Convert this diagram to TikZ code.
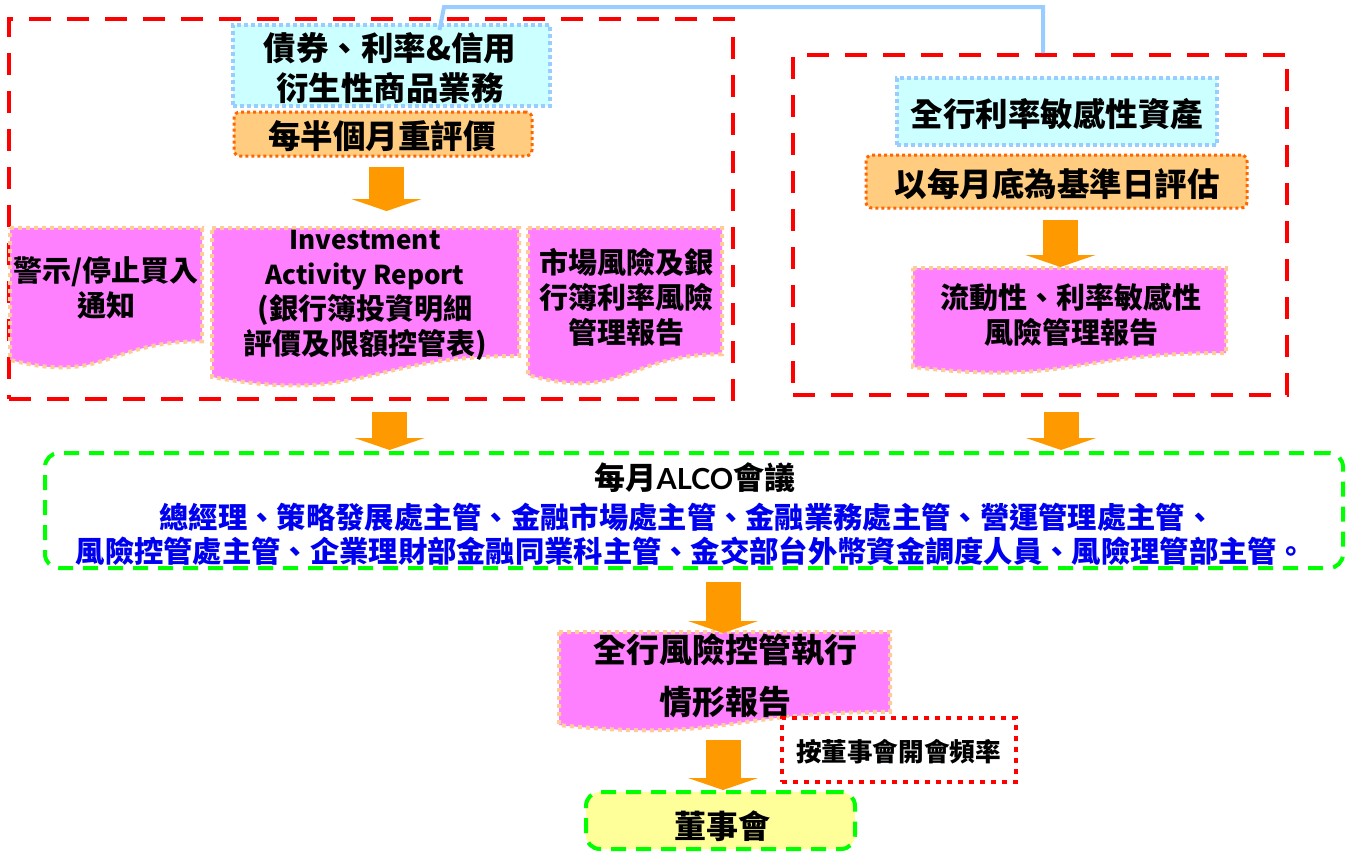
\documentclass[tikz,border=0pt]{standalone}
\usepackage{fontspec}
\setmainfont{Lato}
\newfontfamily\cjk{Noto Sans CJK TC}
\usetikzlibrary{arrows.meta,calc}

% document outline: flat top, wavy bottom, drawn round a named node
\newcommand\docshape[1]{%
  \path[style=doc shape] let \p1=(#1.north west), \p2=(#1.south east) in
    (\p1) -- (\x2,\y1) -- (\x2,{\y1+0.802*(\y2-\y1)})
    .. controls ({0.5*(\x1+\x2)},{\y1+0.802*(\y2-\y1)})
            and ({0.5*(\x1+\x2)},{\y1+1.107*(\y2-\y1)}) .. (\x1,{\y1+0.934*(\y2-\y1)})
    -- cycle;}

\begin{document}
\begin{tikzpicture}[x=1pt,y=-1pt]
  % Colors
  \definecolor{docpink}{HTML}{FF80FF}
  \definecolor{docedge}{HTML}{FFCC99}
  \definecolor{paleblue}{HTML}{CCFFFF}
  \definecolor{cyanedge}{HTML}{99CCFF}
  \definecolor{lightorange}{HTML}{FFCC80}
  \definecolor{dotorange}{HTML}{FF6600}
  \definecolor{arroworange}{HTML}{FF9900}
  \definecolor{framered}{HTML}{FF0000}
  \definecolor{greenedge}{HTML}{00FF00}
  \definecolor{paleyellow}{HTML}{FFFF99}
  \definecolor{staffblue}{HTML}{0000F0}

  % Styles
  \tikzstyle{red frame}=[draw=framered, line width=4pt, dash pattern=on 22pt off 16pt, inner sep=0pt]
  \tikzstyle{cyan box}=[draw=cyanedge, fill=paleblue, line width=4pt, dash pattern=on 4pt off 3pt, inner sep=0pt]
  \tikzstyle{orange box}=[draw=dotorange, fill=lightorange, line width=3pt, dash pattern=on 3pt off 3pt, rounded corners=6pt, inner sep=0pt]
  \tikzstyle{doc}=[inner sep=0pt, outer sep=0pt]
  \tikzstyle{doc shape}=[fill=docpink, draw=docedge, line width=4pt, dash pattern=on 4pt off 4pt]
  \tikzstyle{green box}=[draw=greenedge, line width=4pt, dash pattern=on 15pt off 10pt, rounded corners=14pt, inner sep=0pt]
  \tikzstyle{note box}=[draw=framered, line width=4pt, dash pattern=on 5pt off 6pt, inner sep=0pt]
  \tikzstyle{big arrow}=[draw=arroworange, line width=35pt, -{Triangle[width=70pt,length=12pt,line width=0pt]}]
  \tikzstyle{link line}=[draw=cyanedge, line width=4pt]
  \tikzstyle{head text}=[align=center, inner sep=0pt, font=\cjk\bfseries\fontsize{32.5}{40}\selectfont]
  \tikzstyle{doc text}=[align=center, inner sep=0pt, font=\cjk\bfseries\fontsize{29}{35}\selectfont]
  \tikzstyle{staff text}=[inner sep=0pt, text=staffblue, font=\cjk\bfseries\fontsize{29.3}{35}\selectfont]

  \useasboundingbox (0,0) rectangle (1352,852);

  % The graphic
  \node[red frame, minimum width=724, minimum height=380] (frameL) at (371,209) {};
  \node[red frame, minimum width=494, minimum height=340] (frameR) at (1040,225) {};

  % bonds and derivatives side
  \node[cyan box, minimum width=317, minimum height=81] (bondL) at (391.5,65.5) {};
  \draw[style=link line] ([xshift=48pt,yshift=-7pt]bondL.north) -- (444,7) -| ([xshift=3pt]frameR.north);
  \node[head text] (bondText) at (390,68) {債券、利率\&信用\\衍生性商品業務};
  \node[orange box, minimum width=298, minimum height=44] (evalL) at (383,134) {};
  \node[head text] (evalText) at (382,136) {每半個月重評價};

  \node[doc, minimum width=192, minimum height=141.3] (warnDoc) at (106,298.6) {};
  \node[doc, minimum width=307, minimum height=159.5] (invDoc) at (365.5,307.8) {};
  \node[doc, minimum width=194, minimum height=157.4] (mktDoc) at (625,306.7) {};
  \docshape{warnDoc}
  \docshape{invDoc}
  \docshape{mktDoc}
  \node[doc text] (warnText) at (106,287.5) {警示/停止買入\\通知};
  \node[doc text] (invText) at (365,295)
    {{\fontsize{26}{35.3}\selectfont Investment}\\
     {\fontsize{26}{35.3}\selectfont Activity Report}\\
     (銀行簿投資明細\\評價及限額控管表)};
  \node[doc text] (mktText) at (626,297) {市場風險及銀\\行簿利率風險\\管理報告};

  \draw[big arrow, shorten <=9pt, shorten >=17pt] ([xshift=3.5pt]evalL.south) -- ([xshift=3.5pt]evalL.south |- invDoc.north);

  % interest rate sensitivity side
  \node[cyan box, minimum width=320, minimum height=67] (assetR) at (1057,111.5) {};
  \node[head text] (assetText) at (1057,114) {全行利率敏感性資產};
  \node[orange box, minimum width=381, minimum height=53] (evalR) at (1056.5,181.5) {};
  \node[head text] (evalRText) at (1057,184) {以每月底為基準日評估};
  \node[doc, minimum width=313, minimum height=106] (liqDoc) at (1069.5,321) {};
  \docshape{liqDoc}
  \node[doc text] (liqText) at (1071,314.5) {流動性、利率敏感性\\風險管理報告};

  \draw[big arrow, shorten <=10pt, shorten >=1pt] ([xshift=4pt]evalR.south) -- ([xshift=4pt]evalR.south |- liqDoc.north);

  % monthly ALCO meeting
  \node[green box, minimum width=1298, minimum height=115] (alco) at (694,510.5) {};
  \node[inner sep=0pt, font=\bfseries\fontsize{29}{35}\selectfont] (alcoTitle) at (695,478) {{\cjk\fontsize{31}{35}\selectfont 每月}ALCO{\cjk\fontsize{31}{35}\selectfont 會議}};
  \node[staff text] (staffA) at (687,517) {總經理、策略發展處主管、金融市場處主管、金融業務處主管、營運管理處主管、};
  \node[staff text] (staffB) at (691,551) {風險控管處主管、企業理財部金融同業科主管、金交部台外幣資金調度人員、風險理管部主管。};

  \draw[big arrow, shorten <=11pt, shorten >=1pt] ([xshift=18.5pt]frameL.south) -- ([xshift=18.5pt]frameL.south |- alco.north);
  \draw[big arrow, shorten <=15pt, shorten >=1pt] ([xshift=21pt]frameR.south) -- ([xshift=21pt]frameR.south |- alco.north);

  % report to the board
  \node[doc, minimum width=331, minimum height=99.6] (riskDoc) at (724.5,681.8) {};
  \docshape{riskDoc}
  \node[doc text, font=\cjk\bfseries\fontsize{33}{52}\selectfont] (riskText) at (725,676) {全行風險控管執行\\情形報告};
  \draw[big arrow, shorten <=12pt, shorten >=-1pt] ([xshift=29pt]alco.south) -- ([xshift=29pt]alco.south |- riskDoc.north);

  \node[note box, fill=white, minimum width=234, minimum height=64] (freq) at (899,750) {};
  \node[doc text, font=\cjk\bfseries\fontsize{25.6}{30}\selectfont] (freqText) at (898.5,752) {按董事會開會頻率};

  \node[green box, fill=paleyellow, minimum width=269, minimum height=57] (board) at (720.5,820.5) {};
  \node[head text, font=\cjk\bfseries\fontsize{32}{38}\selectfont] (boardText) at (722,826) {董事會};
  \draw[big arrow, shorten <=8.4pt, shorten >=0pt] ([xshift=-1.5pt]riskDoc.south) -- ([xshift=-1.5pt]riskDoc.south |- board.north);
\end{tikzpicture}
\end{document}
